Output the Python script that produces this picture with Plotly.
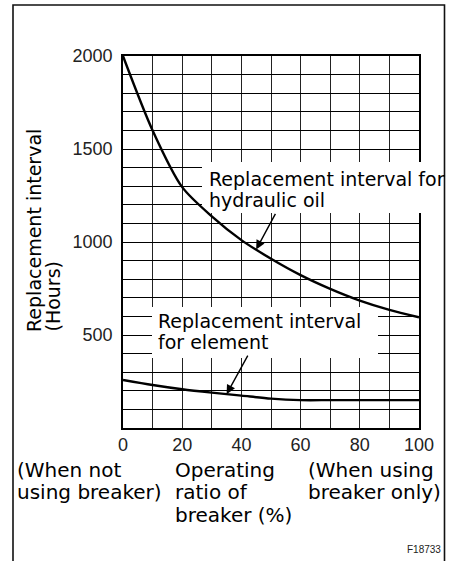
import numpy as np
import plotly.graph_objects as go

# Operating ratio of breaker (%) and replacement intervals (hours)
ratio = [0, 10, 20, 30, 40, 50, 60, 70, 80, 90, 100]
oil_hours = [2000, 1600, 1295, 1138, 1010, 910, 822, 748, 685, 635, 595]
element_hours = [258, 231, 208, 190, 174, 158, 150, 150, 150, 150, 150]

x_tick_labels = ["0", "20", "40", "60", "80", "100"]
y_tick_labels = ["500", "1000", "1500", "2000"]

W_PX, H_PX = 449, 561
L, R, T, B = 123, 419, 56, 428  # plot area in page pixels
X_MAX, Y_MAX = 100, 2000


def px(x):
    return (x - L) / (R - L)


def py(y):
    return (B - y) / (B - T)


def dx(x):
    return px(x) * X_MAX


def dy(y):
    return py(y) * Y_MAX


LABEL_FONT = dict(family="DejaVu Sans", size=19, color="#000")
NOTE_FONT = dict(family="DejaVu Sans", size=20, color="#000")
TICK_FONT = dict(family="Liberation Sans", size=18, color="#222")

fig = go.Figure()

# white label backgrounds: drawn as traces so they sit above the grid but under the curves
for x0, x1, y0, y1 in ((202, 443, 162, 213), (152, 378, 307, 358)):
    fig.add_trace(go.Scatter(x=[dx(x0), dx(x1), dx(x1), dx(x0), dx(x0)],
                             y=[dy(y0), dy(y0), dy(y1), dy(y1), dy(y0)],
                             mode="lines", fill="toself", fillcolor="white",
                             line=dict(width=0, color="white"), hoverinfo="skip"))

for hours in (oil_hours, element_hours):
    fig.add_trace(go.Scatter(x=ratio, y=hours, mode="lines",
                             line=dict(color="#000", width=2.4, shape="spline", smoothing=0.8),
                             hoverinfo="skip"))

x_grid = list(range(0, 101, 10))
y_grid = list(range(0, 2001, 100))
x_text = [str(v) if str(v) in x_tick_labels else "" for v in x_grid]
y_text = [str(v) if str(v) in y_tick_labels else "" for v in y_grid]

fig.update_xaxes(range=[0, X_MAX], tickvals=x_grid, ticktext=x_text, showgrid=True,
                 gridcolor="#222", gridwidth=1, showline=True, mirror=True,
                 linecolor="#000", linewidth=1.6, zeroline=False, ticks="",
                 tickfont=TICK_FONT)
fig.update_yaxes(range=[0, Y_MAX], tickvals=y_grid, ticktext=y_text, showgrid=True,
                 gridcolor="#000", gridwidth=1.2, showline=True, mirror=True,
                 linecolor="#000", linewidth=1.6, zeroline=False, ticks="outside",
                 ticklen=5, tickcolor="rgba(0,0,0,0)", tickfont=TICK_FONT)

shapes = [
    # mask the right plot border behind the upper label
    dict(type="rect", xref="paper", yref="paper", x0=px(R - 3), x1=px(443),
         y0=py(213), y1=py(162), fillcolor="white", line=dict(width=0), layer="above"),
    # outer frame (open at the bottom)
    dict(type="path", xref="paper", yref="paper",
         path=f"M {px(13)} {py(561)} L {px(13)} {py(5)} L {px(444.5)} {py(5)} L {px(444.5)} {py(561)}",
         line=dict(color="#111", width=1.6), layer="above"),
]

annotations = []


def text(s, x, y, font=LABEL_FONT, xanchor="left"):
    annotations.append(dict(text=s, x=px(x), y=py(y), xref="paper", yref="paper",
                            xanchor=xanchor, yanchor="middle", showarrow=False, font=font))


text("Replacement interval for", 207, 179)
text("hydraulic oil", 207, 200)
text("Replacement interval", 156, 321)
text("for element", 156, 342)
text("(When not", 15, 470, NOTE_FONT)
text("using breaker)", 15, 492, NOTE_FONT)
text("Operating", 173, 470, NOTE_FONT)
text("ratio of", 173, 492, NOTE_FONT)
text("breaker (%)", 173, 515, NOTE_FONT)
text("(When using", 306, 470, NOTE_FONT)
text("breaker only)", 306, 492, NOTE_FONT)
text("F18733", 443, 549, font=dict(family="Liberation Sans Narrow, Liberation Sans", size=10, color="#222"),
     xanchor="right")

# rotated y-axis title
for s, xc in (("Replacement interval", 33.5), ("(Hours)", 52)):
    annotations.append(dict(text=s, x=px(xc), y=py(334), xref="paper", yref="paper",
                            xanchor="center", yanchor="bottom", textangle=-90,
                            showarrow=False, font=LABEL_FONT))

# pointer arrows onto the curves
oil_tip = 45
elem_tip = 35
annotations.append(dict(x=oil_tip, y=float(np.interp(oil_tip, ratio, oil_hours)), xref="x", yref="y",
                        ax=20, ay=-37, showarrow=True, arrowhead=2, arrowsize=1.3,
                        arrowwidth=1.4, arrowcolor="#000", text=""))
annotations.append(dict(x=elem_tip, y=float(np.interp(elem_tip, ratio, element_hours)), xref="x", yref="y",
                        ax=22, ay=-40, showarrow=True, arrowhead=2, arrowsize=1.3,
                        arrowwidth=1.4, arrowcolor="#000", text=""))

fig.update_layout(width=W_PX, height=H_PX, margin=dict(l=L, r=W_PX - R, t=T, b=H_PX - B),
                  paper_bgcolor="white", plot_bgcolor="white", showlegend=False,
                  shapes=shapes, annotations=annotations)

fig.write_html("out.html")
